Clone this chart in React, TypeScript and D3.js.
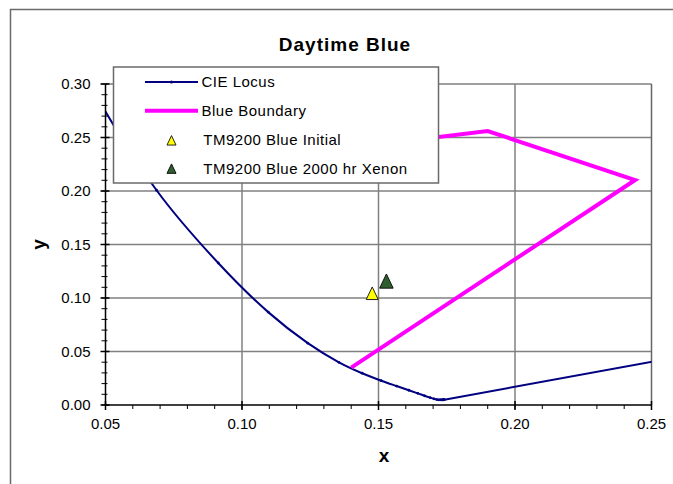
import React from "react";
import * as d3 from "d3";

const locusX = [0.7347, 0.1741, 0.174, 0.1738, 0.1736, 0.1733, 0.173, 0.1726, 0.1721, 0.1714, 0.1703, 0.1689, 0.1669, 0.1644, 0.1611, 0.1566, 0.151, 0.144, 0.1355, 0.1241, 0.1096, 0.0913, 0.0687, 0.0454, 0.0235];
const locusY = [0.2653, 0.005, 0.005, 0.0049, 0.0049, 0.0048, 0.0048, 0.0048, 0.0048, 0.0051, 0.0058, 0.0069, 0.0086, 0.0109, 0.0138, 0.0177, 0.0227, 0.0297, 0.0399, 0.0578, 0.0868, 0.1327, 0.2007, 0.295, 0.4127];
const boundaryX = [0.14, 0.244, 0.19, 0.09];
const boundaryY = [0.035, 0.2103, 0.256, 0.225];
const initialPt = [0.1477, 0.1036];
const xenonPt = [0.1529, 0.1149];
const xTicks = [0.05, 0.1, 0.15, 0.2, 0.25];
const yTicks = [0, 0.05, 0.1, 0.15, 0.2, 0.25, 0.3];
const legendLabels = ["CIE Locus", "Blue Boundary", "TM9200 Blue Initial", "TM9200 Blue 2000 hr Xenon"];

export default function App() {
  const W = 673, H = 484;
  const L = 105.5, R = 651.5, T = 84, B = 405;
  const x = d3.scaleLinear().domain([0.05, 0.25]).range([L, R]);
  const y = d3.scaleLinear().domain([0, 0.3]).range([B, T]);
  const line = d3.line<[number, number]>().x(d => x(d[0])).y(d => y(d[1]));
  const curve = d3.line<[number, number]>().x(d => x(d[0])).y(d => y(d[1])).curve(d3.curveCatmullRom.alpha(0.5));
  const locus: [number, number][] = locusX.map((v, i) => [v, locusY[i]]);
  const purpleLine = locus.slice(0, 2);
  const spectral = locus.slice(1);
  const boundary: [number, number][] = boundaryX.map((v, i) => [v, boundaryY[i]]);
  const tri = (cx: number, cy: number, s: number) =>
    `M${cx},${cy - s * 0.6}L${cx + s / 2},${cy + s * 0.45}L${cx - s / 2},${cy + s * 0.45}Z`;
  const xMinor = d3.range(0.05, 0.2501, 0.01);
  const yMinor = d3.range(0, 0.3001, 0.01);
  const font = "Arial, 'Liberation Sans', sans-serif";
  const legRows = [82, 110.7, 140, 168.3];
  return (
    <svg width={W} height={H} style={{ position: "absolute", left: 0, top: 0, fontFamily: font }}>
      <rect x={0} y={0} width={W} height={H} fill="#fff" />
      <rect x={10.5} y={9.5} width={700} height={500} fill="#fff" stroke="#6a6a6a" strokeWidth={1.5} />
      <defs>
        <clipPath id="plotclip"><rect x={L} y={T} width={R - L} height={B - T} /></clipPath>
      </defs>
      <text x={345} y={51} textAnchor="middle" fontWeight="bold" fontSize={19} letterSpacing={1}>Daytime Blue</text>
      {/* grid */}
      {xTicks.slice(1, -1).map(t => (
        <line key={"gx" + t} x1={x(t)} x2={x(t)} y1={T} y2={B} stroke="#808080" strokeWidth={1.5} />
      ))}
      {yTicks.slice(1, -1).map(t => (
        <line key={"gy" + t} x1={L} x2={R} y1={y(t)} y2={y(t)} stroke="#808080" strokeWidth={1.5} />
      ))}
      <line x1={L} x2={R} y1={T} y2={T} stroke="#808080" strokeWidth={1.5} />
      <line x1={R} x2={R} y1={T} y2={B} stroke="#666" strokeWidth={1.5} />
      {/* series */}
      <g clipPath="url(#plotclip)">
        <path d={line(purpleLine) || ""} fill="none" stroke="#000080" strokeWidth={2} />
        <path d={curve(spectral) || ""} fill="none" stroke="#000080" strokeWidth={2} />
        {locus.map((p, i) => (
          <circle key={"lm" + i} cx={x(p[0])} cy={y(p[1])} r={1.4} fill="#000080" />
        ))}
        <path d={line(boundary) || ""} fill="none" stroke="#ff00ff" strokeWidth={4} strokeLinejoin="miter" />
      </g>
      <path d={tri(x(initialPt[0]), y(initialPt[1]), 12)} fill="#ffff00" stroke="#222" strokeWidth={1} />
      <path d={tri(x(xenonPt[0]), y(xenonPt[1]), 13.5)} fill="#2f5f2f" stroke="#111" strokeWidth={1} />
      {/* axes */}
      <line x1={L} x2={R} y1={B} y2={B} stroke="#000" strokeWidth={1.5} />
      <line x1={L} x2={L} y1={T} y2={B} stroke="#000" strokeWidth={1.5} />
      {xMinor.map((t, i) => (
        <line key={"xm" + i} x1={x(t)} x2={x(t)} y1={B} y2={B + 4} stroke="#000" strokeWidth={1} />
      ))}
      {yMinor.map((t, i) => (
        <line key={"ym" + i} x1={L - 4} x2={L + 2} y1={y(t)} y2={y(t)} stroke="#000" strokeWidth={1} />
      ))}
      {xTicks.map(t => (
        <g key={"xt" + t}>
          <line x1={x(t)} x2={x(t)} y1={B - 4} y2={B + 5} stroke="#000" strokeWidth={1.5} />
          <text x={x(t)} y={B + 23.5} textAnchor="middle" fontSize={15}>{t.toFixed(2)}</text>
        </g>
      ))}
      {yTicks.map(t => (
        <g key={"yt" + t}>
          <line x1={L - 5} x2={L + 4} y1={y(t)} y2={y(t)} stroke="#000" strokeWidth={1.5} />
          <text x={L - 15} y={y(t) + 5.4} textAnchor="end" fontSize={15}>{t.toFixed(2)}</text>
        </g>
      ))}
      <text x={384} y={462} textAnchor="middle" fontWeight="bold" fontSize={19}>x</text>
      <text transform={`translate(45,${(T + B) / 2}) rotate(-90)`} textAnchor="middle" fontWeight="bold" fontSize={19}>y</text>
      {/* legend */}
      <rect x={113.5} y={67} width={325} height={116} fill="#fff" stroke="#6a6a6a" strokeWidth={1.5} />
      <line x1={145} x2={198} y1={legRows[0]} y2={legRows[0]} stroke="#000080" strokeWidth={2} />
      <circle cx={171.5} cy={legRows[0]} r={1.6} fill="#000080" />
      <line x1={145} x2={198} y1={legRows[1]} y2={legRows[1]} stroke="#ff00ff" strokeWidth={4} />
      <path d={tri(171.5, legRows[2] + 1, 9)} fill="#ffff00" stroke="#222" strokeWidth={1} />
      <path d={tri(171.5, legRows[3] + 1, 9)} fill="#2f5f2f" stroke="#111" strokeWidth={1} />
      {legendLabels.map((s, i) => (
        <text key={s} x={i < 2 ? 201.5 : 203.3} y={legRows[i] + 5.4} fontSize={15} letterSpacing={0.5}>{s}</text>
      ))}
    </svg>
  );
}
